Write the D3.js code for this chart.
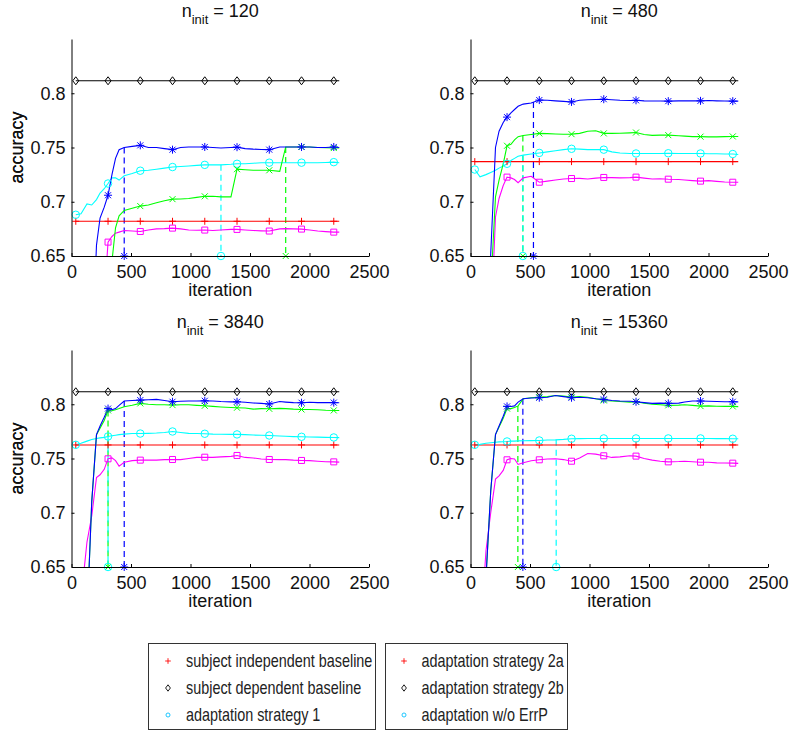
<!DOCTYPE html>
<html>
<head>
<meta charset="utf-8">
<script src="https://cdn.jsdelivr.net/npm/d3@7"></script>
<style>
  body { margin: 0; background: #fff; }
  text { font-family: "Liberation Sans", Arial, Helvetica, sans-serif; }
</style>
</head>
<body>
<svg id="chart" width="790" height="731"></svg>
<script>
// iterations at which every curve is sampled
const iterations = [36, 80, 130, 170, 210, 240, 275, 307, 340, 370, 400, 443, 510, 578, 646, 714, 781, 849, 917, 985,
  1052, 1120, 1188, 1256, 1340, 1391, 1459, 1527, 1594, 1662, 1750, 1800, 1865, 1933, 2001, 2069, 2136, 2204, 2250];
const markerIterations = [36, 307, 578, 849, 1120, 1391, 1662, 1933, 2204];
const nInit = [120, 480, 3840, 15360];
const xTicks = [0, 500, 1000, 1500, 2000, 2500];
const yTicks = [0.65, 0.7, 0.75, 0.8];

const redLevel = [0.682, 0.737, 0.7625, 0.7625];
const blackLevel = [0.8115, 0.8115, 0.8115, 0.8115];

// n_init = 120
const blue120 = [0.45, 0.47, 0.50, 0.55, 0.66, 0.685, 0.695, 0.706, 0.725, 0.740, 0.748, 0.750, 0.751, 0.752, 0.750, 0.750, 0.749, 0.748, 0.750, 0.7505,
  0.7505, 0.7505, 0.750, 0.7495, 0.750, 0.7503, 0.749, 0.7485, 0.7482, 0.748, 0.7505, 0.7505, 0.7505, 0.7505, 0.7505, 0.750, 0.750, 0.7505, 0.750];
const green120 = [0.40, 0.42, 0.45, 0.48, 0.50, 0.52, 0.54, 0.55, 0.645, 0.676, 0.687, 0.692, 0.694, 0.696, 0.697, 0.699, 0.701, 0.7024, 0.7025, 0.703,
  0.704, 0.705, 0.705, 0.7045, 0.7045, 0.730, 0.7295, 0.729, 0.729, 0.729, 0.728, 0.7505, 0.7505, 0.7505, 0.7505, 0.750, 0.7498, 0.7495, 0.7495];
const cyan120 = [0.688, 0.689, 0.698, 0.697, 0.702, 0.708, 0.712, 0.7168, 0.722, 0.722, 0.720, 0.724, 0.726, 0.7286, 0.729, 0.730, 0.731, 0.732, 0.7325, 0.733,
  0.7335, 0.734, 0.734, 0.734, 0.7345, 0.735, 0.735, 0.7355, 0.736, 0.736, 0.736, 0.736, 0.736, 0.736, 0.736, 0.736, 0.7362, 0.7365, 0.736];
const magenta120 = [0.40, 0.42, 0.45, 0.48, 0.50, 0.55, 0.61, 0.6628, 0.668, 0.671, 0.672, 0.6735, 0.673, 0.6726, 0.674, 0.675, 0.6752, 0.6757, 0.675, 0.674,
  0.6738, 0.6739, 0.6735, 0.674, 0.6745, 0.6745, 0.674, 0.6735, 0.6732, 0.673, 0.675, 0.6752, 0.675, 0.6748, 0.674, 0.673, 0.6725, 0.672, 0.672];

// n_init = 480
const blue480 = [0.40, 0.45, 0.55, 0.652, 0.750, 0.765, 0.773, 0.778, 0.782, 0.785, 0.788, 0.790, 0.791, 0.7937, 0.7935, 0.793, 0.7925, 0.792, 0.7935, 0.794,
  0.7943, 0.7945, 0.794, 0.7935, 0.7933, 0.7935, 0.793, 0.7928, 0.7928, 0.7927, 0.793, 0.793, 0.793, 0.793, 0.7933, 0.793, 0.7928, 0.7927, 0.7927];
const green480 = [0.40, 0.45, 0.52, 0.62, 0.7045, 0.72, 0.735, 0.7516, 0.753, 0.757, 0.760, 0.761, 0.762, 0.763, 0.7628, 0.7625, 0.7622, 0.7623, 0.763, 0.765,
  0.7654, 0.763, 0.763, 0.7632, 0.7635, 0.7638, 0.762, 0.7612, 0.7614, 0.7614, 0.7608, 0.7605, 0.760, 0.760, 0.7598, 0.7598, 0.760, 0.7602, 0.7602];
const cyan480 = [0.7297, 0.723, 0.725, 0.727, 0.729, 0.731, 0.733, 0.735, 0.738, 0.740, 0.742, 0.743, 0.744, 0.745, 0.746, 0.747, 0.748, 0.7488, 0.7485, 0.748,
  0.748, 0.748, 0.746, 0.745, 0.7445, 0.7445, 0.7445, 0.7445, 0.7445, 0.7447, 0.7445, 0.7445, 0.7445, 0.7445, 0.7443, 0.7442, 0.744, 0.744, 0.7435];
const magenta480 = [0.40, 0.45, 0.50, 0.58, 0.686, 0.703, 0.715, 0.7227, 0.722, 0.7205, 0.7175, 0.722, 0.7235, 0.718, 0.719, 0.720, 0.721, 0.7214, 0.7215, 0.721,
  0.7218, 0.7224, 0.7222, 0.722, 0.7222, 0.7227, 0.7218, 0.721, 0.7212, 0.7208, 0.7205, 0.720, 0.7195, 0.719, 0.7195, 0.7188, 0.7182, 0.718, 0.718];

// n_init = 3840
const blue3840 = [0.40, 0.45, 0.60, 0.71, 0.772, 0.780, 0.788, 0.796, 0.795, 0.796, 0.799, 0.803, 0.8035, 0.8038, 0.8042, 0.8045, 0.8035, 0.8023, 0.8028, 0.803,
  0.803, 0.8032, 0.803, 0.8025, 0.8022, 0.8023, 0.8018, 0.8012, 0.8008, 0.8002, 0.8025, 0.802, 0.8015, 0.8014, 0.8018, 0.8015, 0.8015, 0.8015, 0.8014];
const green3840 = [0.40, 0.45, 0.60, 0.71, 0.772, 0.778, 0.785, 0.7943, 0.794, 0.795, 0.796, 0.7977, 0.799, 0.8008, 0.800, 0.7995, 0.7995, 0.7992, 0.7995, 0.7995,
  0.799, 0.7986, 0.798, 0.7975, 0.797, 0.7968, 0.7965, 0.7955, 0.796, 0.7958, 0.7962, 0.796, 0.7955, 0.7952, 0.7952, 0.795, 0.7945, 0.7943, 0.7943];
const cyan3840 = [0.7626, 0.764, 0.766, 0.7675, 0.7685, 0.769, 0.7695, 0.7703, 0.771, 0.7715, 0.772, 0.7725, 0.773, 0.773, 0.7732, 0.7735, 0.774, 0.7749, 0.774, 0.7732,
  0.773, 0.7728, 0.7725, 0.7724, 0.7722, 0.7722, 0.772, 0.7716, 0.7714, 0.7712, 0.7708, 0.7705, 0.7702, 0.770, 0.7698, 0.7697, 0.7695, 0.7694, 0.7692];
const magenta3840 = [0.50, 0.62, 0.673, 0.697, 0.7325, 0.735, 0.740, 0.7497, 0.7506, 0.748, 0.743, 0.7466, 0.748, 0.7485, 0.7485, 0.7485, 0.749, 0.7491, 0.749, 0.750,
  0.751, 0.7512, 0.751, 0.7515, 0.752, 0.7528, 0.751, 0.7505, 0.7495, 0.7491, 0.749, 0.749, 0.7485, 0.7482, 0.748, 0.7475, 0.747, 0.7469, 0.7467];

// n_init = 15360
const blue15360 = [0.40, 0.50, 0.64, 0.72, 0.772, 0.78, 0.789, 0.798, 0.798, 0.7985, 0.802, 0.805, 0.8058, 0.806, 0.8065, 0.808, 0.807, 0.806, 0.8065, 0.806,
  0.805, 0.8045, 0.8035, 0.803, 0.8028, 0.8023, 0.8015, 0.8008, 0.801, 0.8008, 0.801, 0.802, 0.803, 0.803, 0.8028, 0.8025, 0.8023, 0.8023, 0.8022];
const green15360 = [0.40, 0.50, 0.64, 0.72, 0.772, 0.779, 0.787, 0.796, 0.796, 0.797, 0.7985, 0.805, 0.806, 0.8066, 0.807, 0.808, 0.8075, 0.8066, 0.807, 0.8065,
  0.805, 0.8035, 0.803, 0.8025, 0.802, 0.8023, 0.801, 0.800, 0.7995, 0.799, 0.7992, 0.7995, 0.799, 0.7983, 0.7985, 0.7982, 0.798, 0.798, 0.7978];
const cyan15360 = [0.7626, 0.763, 0.764, 0.7645, 0.765, 0.7653, 0.7655, 0.7657, 0.766, 0.766, 0.7662, 0.7664, 0.7665, 0.7666, 0.767, 0.7672, 0.7676, 0.7682, 0.7683, 0.7684,
  0.7685, 0.7685, 0.7685, 0.7685, 0.7685, 0.7685, 0.7685, 0.7685, 0.7685, 0.7685, 0.7685, 0.7685, 0.7685, 0.7685, 0.7684, 0.7683, 0.7683, 0.7682, 0.7682];
const magenta15360 = [0.45, 0.58, 0.665, 0.70, 0.731, 0.734, 0.739, 0.7488, 0.750, 0.7495, 0.7445, 0.746, 0.748, 0.7488, 0.7495, 0.7497, 0.749, 0.7475, 0.7505, 0.7546,
  0.754, 0.7525, 0.751, 0.7515, 0.7525, 0.7522, 0.750, 0.7485, 0.7475, 0.7469, 0.7472, 0.7475, 0.747, 0.7466, 0.7465, 0.746, 0.7458, 0.7457, 0.7455];

// dashed drop lines (iteration, curve value at top)
const dashIterBlue = [443, 529, 443, 440];
const dashTopBlue = [0.750, 0.792, 0.803, 0.805];
const dashIterGreen = [1800, 440, 307, 398];
const dashTopGreen = [0.7505, 0.761, 0.7943, 0.7985];
const dashIterCyan = [1256, 440, 307, 720];
const dashTopCyan = [0.734, 0.743, 0.7703, 0.7672];

const legendLeft = ['subject independent baseline', 'subject dependent baseline', 'adaptation strategy 1'];
const legendRight = ['adaptation strategy 2a', 'adaptation strategy 2b', 'adaptation w/o ErrP'];

const blueRuns = [blue120, blue480, blue3840, blue15360];
const greenRuns = [green120, green480, green3840, green15360];
const cyanRuns = [cyan120, cyan480, cyan3840, cyan15360];
const magentaRuns = [magenta120, magenta480, magenta3840, magenta15360];

const svg = d3.select('#chart');
const plotW = 297.5, plotH = 217;
const lefts = [71.5, 470.5], tops = [39, 350];
const fontSize = 18;

// marker shapes, centred at 0,0
function markerPath(kind) {
  switch (kind) {
    case 'plus': return 'M-3.5,0H3.5M0,-3.5V3.5';
    case 'x': return 'M-3,-3L3,3M-3,3L3,-3';
    case 'star': return 'M-4,0H4M0,-4V4M-3,-3L3,3M-3,3L3,-3';
    case 'diamond': return 'M0,-4L3,0L0,4L-3,0Z';
    case 'square': return 'M-3,-3H3V3H-3Z';
    case 'circle': return d3.symbol(d3.symbolCircle, 44)();
  }
}

nInit.forEach((n, p) => {
  const left = lefts[p % 2], top = tops[Math.floor(p / 2)];
  const g = svg.append('g').attr('transform', `translate(${left},${top})`);

  const x = d3.scaleLinear().domain([0, 2500]).range([0, plotW]);
  const y = d3.scaleLinear().domain([0.65, 0.85]).range([plotH, 0]);

  g.append('clipPath').attr('id', 'clip' + p)
    .append('rect').attr('x', 0).attr('y', 0).attr('width', plotW).attr('height', plotH);

  const plot = g.append('g').attr('clip-path', `url(#clip${p})`);
  const line = d3.line().x(d => x(d[0])).y(d => y(d[1]));

  // dashed drop lines
  const drops = [
    { it: dashIterBlue[p], top: dashTopBlue[p], color: '#0000ff', kind: 'star' },
    { it: dashIterGreen[p], top: dashTopGreen[p], color: '#00ff00', kind: 'x' },
    { it: dashIterCyan[p], top: dashTopCyan[p], color: '#00ffff', kind: 'circle' }
  ];
  drops.forEach(d => {
    plot.append('line')
      .attr('x1', x(d.it)).attr('x2', x(d.it))
      .attr('y1', y(d.top)).attr('y2', y(0.65))
      .attr('stroke', d.color).attr('stroke-width', 1.2)
      .attr('stroke-dasharray', '6,4');
  });

  const series = [
    { vals: iterations.map(() => redLevel[p]), color: '#ff0000', kind: 'plus' },
    { vals: iterations.map(() => blackLevel[p]), color: '#000000', kind: 'diamond' },
    { vals: magentaRuns[p], color: '#ff00ff', kind: 'square' },
    { vals: cyanRuns[p], color: '#00ffff', kind: 'circle' },
    { vals: greenRuns[p], color: '#00ff00', kind: 'x' },
    { vals: blueRuns[p], color: '#0000ff', kind: 'star' }
  ];

  series.forEach(s => {
    const pts = iterations.map((it, i) => [it, s.vals[i]]);
    plot.append('path').datum(pts)
      .attr('d', line)
      .attr('fill', 'none')
      .attr('stroke', s.color)
      .attr('stroke-width', 1.1);
    const marks = pts.filter(d => markerIterations.includes(d[0]) && d[1] >= 0.65 && d[1] <= 0.85);
    g.selectAll(null).data(marks).enter().append('path')
      .attr('transform', d => `translate(${x(d[0])},${y(d[1])})`)
      .attr('d', markerPath(s.kind))
      .attr('fill', 'none')
      .attr('stroke', s.color)
      .attr('stroke-width', 1);
  });

  // markers where the drop lines meet the axis
  drops.forEach(d => {
    g.append('path')
      .attr('transform', `translate(${x(d.it)},${y(0.65)})`)
      .attr('d', markerPath(d.kind))
      .attr('fill', 'none')
      .attr('stroke', d.color)
      .attr('stroke-width', 1);
  });

  // axes, ticks inward like MATLAB
  const xAxis = g.append('g').attr('transform', `translate(0,${plotH})`)
    .call(d3.axisBottom(x).tickValues(xTicks).tickFormat(d => String(d))
      .tickSizeInner(-3).tickSizeOuter(0).tickPadding(9));
  const yAxis = g.append('g')
    .call(d3.axisLeft(y).tickValues(yTicks).tickFormat(d => String(d))
      .tickSizeInner(-3).tickSizeOuter(0).tickPadding(6));
  [xAxis, yAxis].forEach(a => {
    a.attr('font-size', null).attr('font-family', null);
    a.selectAll('text').attr('font-size', fontSize).attr('fill', '#111');
    a.selectAll('path, line').attr('stroke', '#000');
  });

  g.append('text')
    .attr('x', plotW / 2).attr('y', plotH + 40)
    .attr('text-anchor', 'middle').attr('font-size', fontSize).attr('fill', '#111')
    .text('iteration');

  g.append('text')
    .attr('transform', `translate(${23 - left},${plotH / 2}) rotate(-90)`)
    .attr('text-anchor', 'middle').attr('font-size', fontSize).attr('fill', '#111')
    .text('accuracy');

  const title = g.append('text')
    .attr('x', plotW / 2).attr('y', -22)
    .attr('text-anchor', 'middle').attr('font-size', fontSize).attr('fill', '#111');
  title.append('tspan').text('n');
  title.append('tspan').attr('font-size', 13).attr('dy', 7).text('init');
  title.append('tspan').attr('dy', -7).text(' = ' + n);
});

// legend (two boxes, cut off by the bottom edge like the original)
const legendRows = [667, 694, 721];
const legendKinds = ['plus', 'diamond', 'circle'];
const legendColors = ['#ff0000', '#000000', '#00bfff'];
const boxes = [
  { x: 148.5, w: 227, mx: 168, tx: 186, labels: legendLeft },
  { x: 385.5, w: 182, mx: 404, tx: 421.5, labels: legendRight }
];
boxes.forEach(b => {
  svg.append('rect')
    .attr('x', b.x).attr('y', 643.5).attr('width', b.w).attr('height', 86)
    .attr('fill', '#fff').attr('stroke', '#333').attr('stroke-width', 1);
  b.labels.forEach((label, i) => {
    const k = legendKinds[i];
    svg.append('path')
      .attr('transform', `translate(${b.mx},${legendRows[i] - 6}) scale(0.8)`)
      .attr('d', k === 'circle' ? d3.symbol(d3.symbolCircle, 20)() : markerPath(k))
      .attr('fill', 'none').attr('stroke', legendColors[i]).attr('stroke-width', 1.1);
    svg.append('text')
      .attr('transform', `translate(${b.tx},${legendRows[i]}) scale(0.8,1)`)
      .attr('font-size', 18).attr('fill', '#222')
      .text(label);
  });
});
</script>
</body>
</html>
